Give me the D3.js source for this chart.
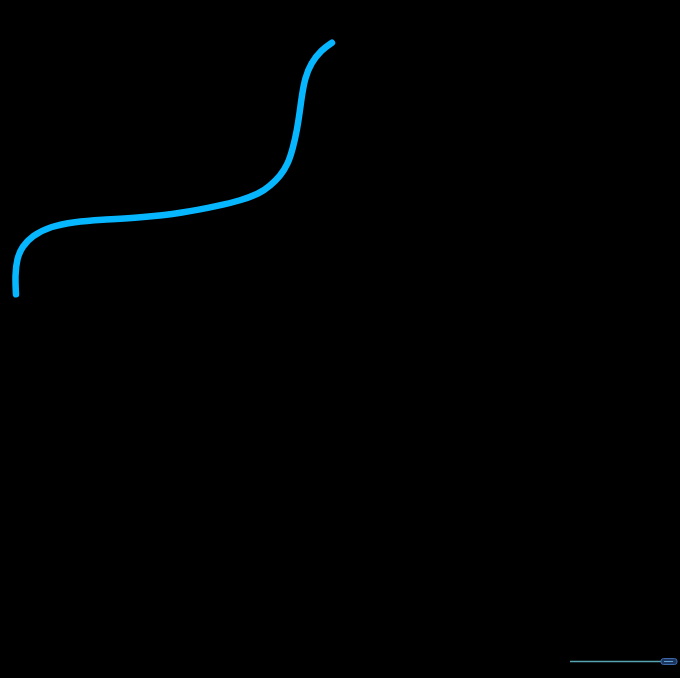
<!DOCTYPE html>
<html>
<head>
<meta charset="utf-8">
<script src="https://cdn.jsdelivr.net/npm/d3@7"></script>
<style>
  html, body { margin: 0; padding: 0; background: #000; }
  svg { display: block; }
</style>
</head>
<body>
<svg id="chart" width="680" height="678"></svg>
<script>
// series values (x, y in chart units 0-100)
const xs = [2.35, 2.21, 2.50, 3.24, 4.71, 7.35, 11.03, 14.71, 20.59, 26.91, 32.35, 35.29,
  38.24, 39.71, 41.18, 42.35, 43.09, 43.68, 44.12, 44.41, 44.85, 45.74, 47.21, 48.82];
const ys = [56.6, 59.4, 61.9, 63.6, 65.2, 66.6, 67.3, 67.6, 67.9, 68.6, 69.7, 70.4,
  71.5, 72.6, 74.0, 75.8, 78.2, 80.8, 83.8, 86.0, 88.5, 90.7, 92.6, 93.7];
const progress = [0, 100];
const progressValue = 100;

const svg = d3.select("#chart"),
  width = +svg.attr("width"),
  height = +svg.attr("height");

svg.append("rect").attr("width", width).attr("height", height).attr("fill", "#000");

const x = d3.scaleLinear().domain([0, 100]).range([0, width]);
const y = d3.scaleLinear().domain([0, 100]).range([height, 0]);

const pts = xs.map((d, i) => [d, ys[i]]);

const line = d3.line()
  .x(d => x(d[0]))
  .y(d => y(d[1]))
  .curve(d3.curveBasis);

svg.append("path")
  .datum(pts)
  .attr("d", line)
  .attr("fill", "none")
  .attr("stroke", "#06b7ff")
  .attr("stroke-width", 6.5)
  .attr("stroke-linecap", "round")
  .attr("stroke-linejoin", "round");

// little progress slider bottom right
const s = d3.scaleLinear().domain(progress).range([570, 669]);
const slider = svg.append("g");
slider.append("line")
  .attr("x1", s(0)).attr("x2", s(progressValue))
  .attr("y1", 661.5).attr("y2", 661.5)
  .attr("stroke", "#56a6b0")
  .attr("stroke-width", 1.3);
slider.append("rect")
  .attr("x", s(progressValue) - 8).attr("y", 658.5)
  .attr("width", 16).attr("height", 6)
  .attr("rx", 2.5)
  .attr("fill", "#1b355f")
  .attr("stroke", "#3c68a8")
  .attr("stroke-width", 1);
slider.append("line")
  .attr("x1", s(progressValue) - 5).attr("x2", s(progressValue) + 4)
  .attr("y1", 661.5).attr("y2", 661.5)
  .attr("stroke", "#5f9fd0")
  .attr("stroke-width", 1);
</script>
</body>
</html>
